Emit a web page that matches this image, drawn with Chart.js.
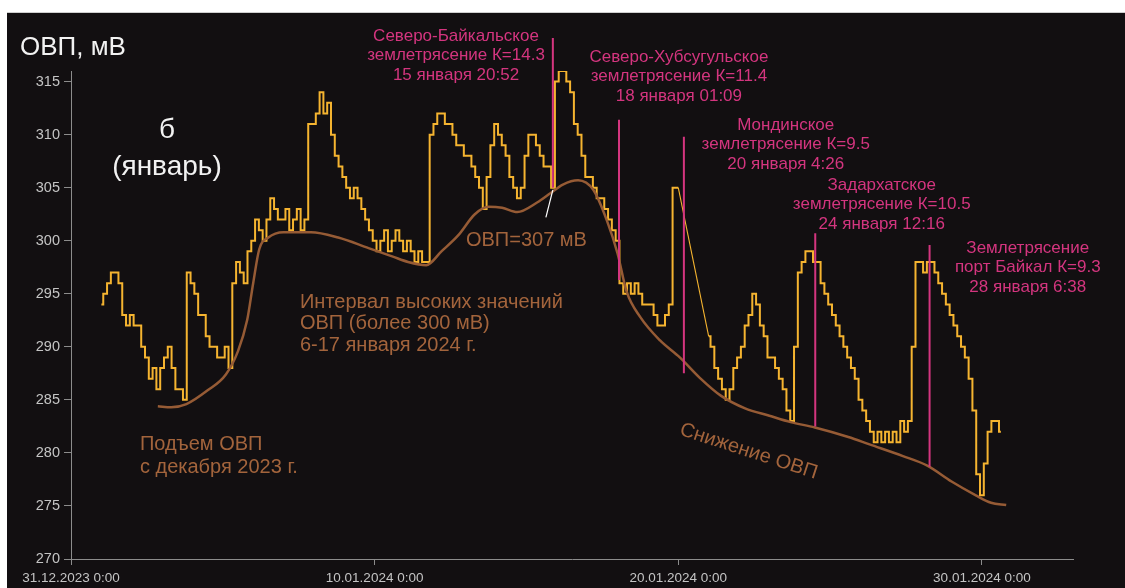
<!DOCTYPE html>
<html>
<head>
<meta charset="utf-8">
<script src="https://cdn.jsdelivr.net/npm/chart.js@4.4.1/dist/chart.umd.min.js"></script>
<style>
  html, body { margin: 0; padding: 0; background: #ffffff; }
  canvas { display: block; }
</style>
</head>
<body>
<canvas id="orpChart" width="1125" height="588"></canvas>
<script>
// ---- Data (x in days since 31.12.2023 0:00) ----

// ORP readings, mV, every 3 hours starting 01.01.2024 0:00 (null = no readings)
const orpStartDay = 1;
const orpStepHours = 3;
const orp = [
  294, 295, 296, 297, 297, 296, 293, 292,
  293, 292, 292, 290, 289, 287, 288, 286,
  288, 289, 290, 288, 286, 286, 285, 297,
  296, 295, 293, 293, 291, 290, 290, 289,
  289, 290, 288, 296, 298, 297, 296, 299,
  300, 302, 301, 300, 302, 304, 303, 302,
  302, 303, 301, 302, 303, 301, 302, 311,
  311, 312, 314, 312, 313, 310, 308, 307,
  306, 305, 304, 305, 304, 303, 302, 301,
  300, 299, 300, 301, 299, 300, 301, 300,
  299, 300, 299, 298, 299, 298, 298, 310,
  311, 312, 312, 311, 311, 310, 309, 309,
  308, 308, 307, 306, 305, 303, 306, 309,
  311, 310, 309, 308, 306, 305, 304, 305,
  308, 310, 310, 309, 308, 307, 307, 305,
  315, 316, 316, 315, 314, 311, 310, 308,
  306, 306, 305, 304, 304, 303, 302, 301,
  300, 296, 295, 296, 295, 296, 295, 294,
  294, 294, 293, 292, 292, 293, 294, 305,
  305, null, null, null, null, null, null, null,
  291, 290, 288, 287, 286, 285, 286, 288,
  289, 290, 292, 293, 295, 294, 292, 291,
  289, 289, 288, 287, 286, 284, 283, 290,
  297, 298, 299, 299, 298, 298, 296, 295,
  294, 293, 292, 291, 290, 289, 288, 287,
  285, 284, 283, 282, 281, 282, 281, 282,
  281, 282, 281, 283, 282, 283, 290, 298,
  298, 297, 298, 298, 297, 296, 295, 294,
  293, 292, 291, 290, 289, 287, 284, 278,
  276, 279, 282, 283, 283, 282
];

// Smoothed ORP trend
const trendDays = [2.86, 3.3, 3.8, 4.5, 5.1, 5.5, 5.8, 6.0, 6.2, 6.5, 7.0, 7.9, 8.8, 9.8, 10.6, 11.1, 11.7,
  12.2, 12.75, 13.3, 13.75, 14.2, 14.7, 15.35, 15.8, 16.2, 16.7, 17.2, 17.65, 18.0, 18.3, 18.75, 19.4,
  20.05, 20.7, 21.4, 22.2, 23.0, 23.7, 24.5, 25.6, 26.3, 27.4, 28.2, 29.0, 29.8, 30.3, 30.8];
const trendValues = [284.4, 284.3, 284.6, 285.9, 287.4, 289.6, 292.5, 296.0, 299.2, 300.3, 300.8, 300.8, 300.3, 299.3, 298.5, 298.0, 297.7,
  299.0, 300.5, 302.5, 303.2, 303.1, 302.7, 303.6, 304.5, 305.3, 305.7, 304.8, 301.9, 298.8, 295.2, 292.8, 290.6,
  289.0, 287.1, 285.4, 284.2, 283.5, 282.9, 282.4, 281.5, 280.8, 279.7, 278.8, 277.3, 276.0, 275.3, 275.1];

// Earthquakes (January 2024)
const quakeNames = ['Северо-Байкальское', 'Северо-Хубсугульское', 'Мондинское', 'Задархатское', 'Землетрясение'];
const quakeKinds = ['землетрясение', 'землетрясение', 'землетрясение', 'землетрясение', 'порт Байкал'];
const quakeK = ['14.3', '11.4', '9.5', '10.5', '9.3'];
const quakeDay = [15, 18, 20, 24, 28];
const quakeTime = ['20:52', '01:09', '4:26', '12:16', '6:38'];
const quakeTop = [319.1, 311.4, 309.8, 300.7, 299.6];
const quakeBottom = [305.0, 296.3, 287.5, 282.5, 278.7];

// Leader from the label to the curve
const leaderDays = [15.87, 15.64];
const leaderValues = [304.8, 302.2];

// Axis ticks
const xTickDays = [0, 10, 20, 30];
const yTickValues = [270, 275, 280, 285, 290, 295, 300, 305, 310, 315];

// ---- Styling ----
const BG = '#120f11';
const YELLOW = '#f5b430';
const BROWN = '#965b35';
const BROWN_TEXT = '#a3643c';
const MAGENTA = '#d4357f';
const WHITE = '#f2f2f2';
const AXIS = '#8c8c8c';
const TICK_TEXT = '#c4c4c4';
const FONT = '"Liberation Sans", Arial, sans-serif';

// ---- Build chart data ----
const orpPoints = orp.map((v, i) => ({ x: orpStartDay + i * orpStepHours / 24, y: v }));

// straight connectors across missing readings
const gapPoints = [];
for (let i = 1; i < orp.length; i++) {
  if (orp[i] === null && orp[i - 1] !== null) {
    let j = i;
    while (j < orp.length && orp[j] === null) j++;
    if (j < orp.length) {
      gapPoints.push(orpPoints[i - 1], orpPoints[j], { x: orpPoints[j].x, y: null });
    }
  }
}

const trendPoints = trendDays.map((d, i) => ({ x: d, y: trendValues[i] }));

const quakeAt = quakeDay.map((d, i) => {
  const [h, m] = quakeTime[i].split(':').map(Number);
  return d + h / 24 + m / 1440;
});

const quakeSets = quakeAt.map((d, i) => ({
  data: [{ x: d, y: quakeTop[i] }, { x: d, y: quakeBottom[i] }],
  borderColor: MAGENTA,
  borderWidth: 2,
  pointRadius: 0,
  clip: false,
  order: 2
}));

// ---- Text placed in data coordinates (day, mV) or pixels ----
const quakeLabelPos = [
  { x: 12.68, y: 319.3 },
  { x: 20.02, y: 317.3 },
  { x: 23.54, y: 310.9 },
  { x: 26.70, y: 305.25 },
  { x: 31.51, y: 299.3 }
];

const notes = [
  { px: 20, py: 48, lines: ['ОВП, мВ'], align: 'left', color: WHITE, size: 26, lh: 30 },
  { x: 3.16, y: 310.44, lines: ['б', '(январь)'], align: 'center', color: WHITE, size: 28, lh: 37 },
  { x: 15.0, y: 300.07, lines: ['ОВП=307 мВ'], align: 'center', color: BROWN_TEXT, size: 20, lh: 22 },
  { x: 7.54, y: 294.2, lines: ['Интервал высоких значений', 'ОВП (более 300 мВ)', '6-17 января 2024 г.'], align: 'left', color: BROWN_TEXT, size: 20, lh: 21.5 },
  { x: 2.27, y: 280.75, lines: ['Подъем ОВП', 'с декабря 2023 г.'], align: 'left', color: BROWN_TEXT, size: 20, lh: 23 },
  { x: 22.32, y: 280.14, lines: ['Снижение ОВП'], align: 'center', color: BROWN_TEXT, size: 20, lh: 22, rot: 18 }
].concat(quakeNames.map((name, i) => ({
  x: quakeLabelPos[i].x,
  y: quakeLabelPos[i].y,
  lines: [name, quakeKinds[i] + ' К=' + quakeK[i], quakeDay[i] + ' января ' + quakeTime[i]],
  align: 'center',
  color: MAGENTA,
  size: 17,
  lh: 19.5
})));

const backdrop = {
  id: 'backdrop',
  beforeDraw(chart) {
    const { ctx, width, height } = chart;
    ctx.save();
    ctx.fillStyle = '#ffffff';
    ctx.fillRect(0, 0, width, height);
    ctx.fillStyle = '#cfcfcf';
    ctx.fillRect(7, 12, width - 7, 1);
    ctx.fillStyle = BG;
    ctx.fillRect(7, 13, width - 7, height - 13);
    ctx.restore();
  }
};

const textNotes = {
  id: 'textNotes',
  afterDatasetsDraw(chart) {
    const { ctx } = chart;
    const xs = chart.scales.x, ys = chart.scales.y;
    ctx.save();
    ctx.textBaseline = 'middle';
    for (const n of notes) {
      const px = n.px !== undefined ? n.px : xs.getPixelForValue(n.x);
      const py = n.py !== undefined ? n.py : ys.getPixelForValue(n.y);
      ctx.font = n.size + 'px ' + FONT;
      ctx.fillStyle = n.color;
      ctx.textAlign = n.align;
      ctx.save();
      ctx.translate(px, py);
      if (n.rot) ctx.rotate(n.rot * Math.PI / 180);
      n.lines.forEach((t, k) => ctx.fillText(t, 0, k * n.lh));
      ctx.restore();
    }
    ctx.restore();
  }
};

function two(n) { return (n < 10 ? '0' : '') + n; }
function dayLabel(d) {
  const dt = new Date(2023, 11, 31 + Math.round(d));
  return two(dt.getDate()) + '.' + two(dt.getMonth() + 1) + '.' + dt.getFullYear() + ' 0:00';
}

new Chart(document.getElementById('orpChart'), {
  type: 'line',
  data: {
    datasets: [
      {
        data: [{ x: leaderDays[0], y: leaderValues[0] }, { x: leaderDays[1], y: leaderValues[1] }],
        borderColor: '#ffffff',
        borderWidth: 1.2,
        pointRadius: 0,
        order: 1
      },
      ...quakeSets,
      {
        data: trendPoints,
        borderColor: BROWN,
        borderWidth: 2.5,
        pointRadius: 0,
        cubicInterpolationMode: 'monotone',
        order: 5
      },
      {
        data: gapPoints,
        borderColor: YELLOW,
        borderWidth: 1.1,
        pointRadius: 0,
        spanGaps: false,
        order: 9
      },
      {
        data: orpPoints,
        borderColor: YELLOW,
        borderWidth: 2,
        pointRadius: 0,
        stepped: 'middle',
        spanGaps: false,
        order: 10
      }
    ]
  },
  options: {
    responsive: false,
    animation: false,
    devicePixelRatio: 1,
    layout: { padding: { left: 0, right: 52, top: 71, bottom: 0 } },
    plugins: { legend: { display: false }, tooltip: { enabled: false } },
    scales: {
      x: {
        type: 'linear',
        min: 0,
        max: 33,
        afterBuildTicks(scale) { scale.ticks = xTickDays.map(v => ({ value: v })); },
        afterFit(scale) { scale.height = 29; },
        grid: { display: true, drawOnChartArea: false, drawTicks: true, tickLength: 6, color: AXIS },
        border: { display: true, color: AXIS, width: 1 },
        ticks: {
          color: TICK_TEXT,
          font: { family: FONT, size: 13.5 },
          padding: 5,
          maxRotation: 0,
          autoSkip: false,
          callback: (v) => dayLabel(v)
        }
      },
      y: {
        type: 'linear',
        min: 270,
        max: 316,
        afterBuildTicks(scale) { scale.ticks = yTickValues.map(v => ({ value: v })); },
        afterFit(scale) { scale.width = 71; },
        grid: { display: true, drawOnChartArea: false, drawTicks: true, tickLength: 7, color: AXIS },
        border: { display: true, color: AXIS, width: 1 },
        ticks: {
          color: TICK_TEXT,
          font: { family: FONT, size: 14.5 },
          padding: 4,
          autoSkip: false,
          callback: (v) => String(v)
        }
      }
    }
  },
  plugins: [backdrop, textNotes]
});
</script>
</body>
</html>
